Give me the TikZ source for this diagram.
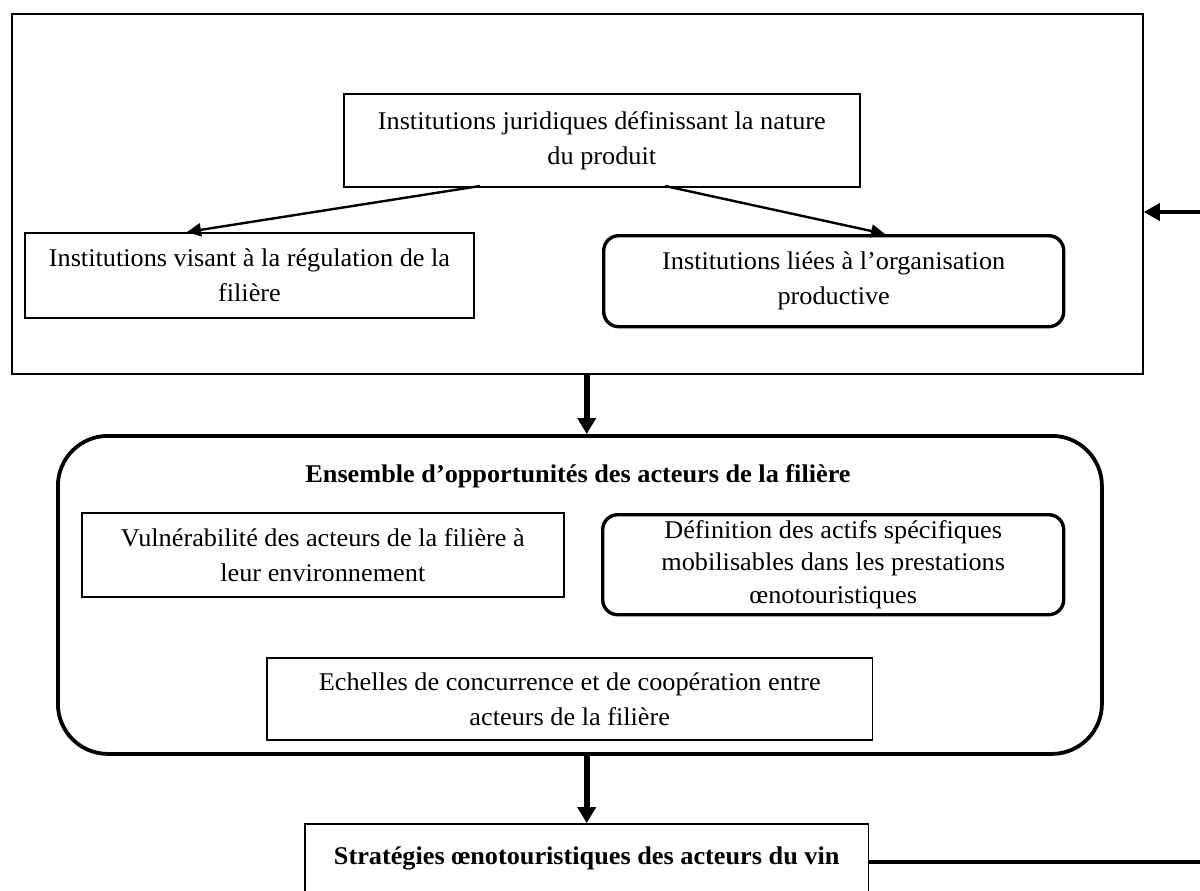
\documentclass[tikz,border=0pt]{standalone}
\usepackage{fontspec}
\setmainfont{Liberation Serif}[FakeStretch=1.03]
\usetikzlibrary{arrows.meta,calc}
\begin{document}
\begin{tikzpicture}[x=1pt,y=-1pt,
  txt/.style={font=\fontsize{25.5}{35}\selectfont, align=center, inner ysep=0pt},
  sqbox/.style={txt, draw, line width=1.8pt, anchor=north west},
  rbox/.style={txt, draw, line width=3.4pt, rounded corners=15pt, anchor=north west},
  thinarrow/.style={line width=2.4pt, -{Triangle[width=13pt,length=14pt]}},
  bigarrow/.style={line width=6pt, -{Triangle[width=18pt,length=16pt]}},
  backarrow/.style={line width=4pt, -{Triangle[width=17pt,length=16pt]}},
  backline/.style={line width=4pt}]
\useasboundingbox (0,0) rectangle (1200,891);
\clip (0,0) rectangle (1200,891);
% top frame
\node[draw, line width=1.8pt, inner sep=0pt, anchor=north west, minimum width=1131pt, minimum height=360pt] (outer) at (11,13) {};
\node[sqbox, inner xsep=34pt, minimum height=93pt] (top) at (343,93)
  {Institutions juridiques définissant la nature\\du produit};
\node[sqbox, inner xsep=24pt, minimum height=85pt] (lft) at (24,232)
  {Institutions visant à la régulation de la\\filière};
\node[rbox, inner xsep=0pt, minimum width=460pt, minimum height=91pt] (rgt) at (602,234)
  {Institutions liées à l’organisation\\productive};
\coordinate (a1s) at (480,186);
\coordinate (a1e) at (187,232);
\coordinate (a2s) at (665,186);
\coordinate (a2e) at (885,234);
\draw[thinarrow] (a1s) -- (a1e);
\draw[thinarrow] (a2s) -- (a2e);
% middle frame
\node[draw, line width=3.8pt, rounded corners=50pt, inner sep=0pt, anchor=north west, minimum width=1044pt, minimum height=318pt] (big) at (56,434) {};
\node[txt, font=\fontsize{25.5}{35}\selectfont\bfseries, anchor=base] (title) at (578,482)
  {Ensemble d’opportunités des acteurs de la filière};
\node[sqbox, inner xsep=39pt, minimum height=84pt] (vul) at (81,512)
  {Vulnérabilité des acteurs de la filière à\\leur environnement};
\node[rbox, inner xsep=0pt, minimum width=461pt, minimum height=100pt, font=\fontsize{25.5}{32.5}\selectfont] (def) at (601,513)
  {Définition des actifs spécifiques\\mobilisables dans les prestations\\œnotouristiques};
\node[sqbox, inner xsep=52pt, minimum height=82pt] (ech) at (266,657)
  {Echelles de concurrence et de coopération entre\\acteurs de la filière};
% bottom
\node[draw, line width=1.8pt, font=\fontsize{25.5}{35}\selectfont\bfseries, inner xsep=29pt, inner ysep=0pt,
  text height=40pt, text depth=60pt, anchor=base west] (strat) at (304,864)
  {Stratégies œnotouristiques des acteurs du vin};
% connectors
\draw[bigarrow] (outer.south -| strat.north) -- (big.north -| strat.north);
\draw[bigarrow] (big.south -| strat.north) -- (strat.north);
\coordinate (r1) at (1200,212);
\coordinate (r2) at (1200,862);
\draw[backarrow] (r1) -- (r1 -| outer.east);
\draw[backline] (strat.east |- r2) -- (r2);
\end{tikzpicture}
\end{document}
